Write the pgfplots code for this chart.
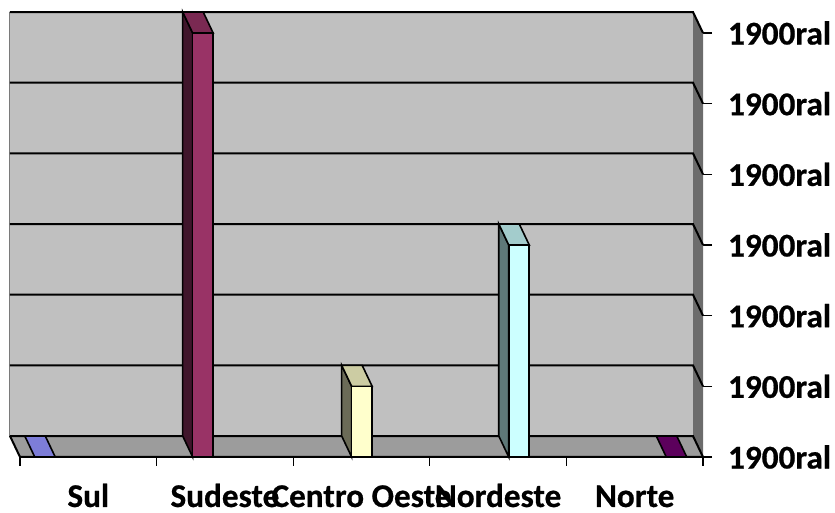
\documentclass[border=0pt]{standalone}
\usepackage{fontspec}
\setmainfont{Carlito}[BoldFeatures={FakeBold=0.6}]
\usepackage{pgfplots}
\pgfplotsset{compat=1.18}
\definecolor{wall}{HTML}{C0C0C0}
\definecolor{floorc}{HTML}{9C9C9C}
\definecolor{rwall}{HTML}{6C6C6C}
\definecolor{edgec}{HTML}{7A7A7A}
\definecolor{sulc}{HTML}{7D7DD8}
\definecolor{sudF}{HTML}{993366}
\definecolor{sudS}{HTML}{40152B}
\definecolor{sudT}{HTML}{7A2952}
\definecolor{coF}{HTML}{FFFFCC}
\definecolor{coS}{HTML}{6B6B57}
\definecolor{coT}{HTML}{CCCCA3}
\definecolor{neF}{HTML}{CCFFFF}
\definecolor{neS}{HTML}{5E7878}
\definecolor{neT}{HTML}{A3CCCC}
\definecolor{noc}{HTML}{5C005C}
\begin{document}
\begin{tikzpicture}
\begin{axis}[
  at={(0,0)}, anchor=south west,
  scale only axis, width=351.5pt, height=228.5pt,
  xmin=-0.6464, xmax=4.5, ymin=0, ymax=6.467,
  axis line style={draw=none},
  clip=false, no markers,
  xtick={-0.5,0.5,1.5,2.5,3.5,4.5}, xticklabels={},
  extra x ticks={0,1,2,3,4},
  extra x tick labels={Sul,Sudeste,Centro Oeste,Nordeste,Norte},
  extra x tick style={major tick length=0pt},
  xtick pos=bottom,
  ytick={0,1,2,3,4,5,6},
  yticklabels={1900ral,1900ral,1900ral,1900ral,1900ral,1900ral,1900ral},
  ytick pos=right, yticklabel pos=right,
  tick align=outside,
  major tick length=4.5pt,
  tick style={black, line width=0.6pt},
  ticklabel style={font=\fontsize{16.6}{19}\selectfont\bfseries},
  xticklabel style={anchor=base, yshift=-25pt},
  yticklabel style={xshift=4.5pt},
]
% back wall
\addplot[fill=wall, draw=edgec, line width=0.5pt] coordinates {(-0.5732,0.297) (4.4268,0.297) (4.4268,6.297) (-0.5732,6.297)} -- cycle;
% right wall
\addplot[fill=rwall, draw=none] coordinates {(4.4268,0.297) (4.4268,6.297) (4.5,6) (4.5,0)} -- cycle;
% floor
\addplot[fill=floorc, draw=none] coordinates {(-0.5732,0.297) (4.4268,0.297) (4.5,0) (-0.5,0)} -- cycle;
% gridlines (back wall + right wall diagonal)
\addplot[black, line width=1pt] coordinates {(-0.5732,6.297) (4.4268,6.297) (4.5,6)};
\addplot[black, line width=1pt] coordinates {(-0.5732,5.297) (4.4268,5.297) (4.5,5)};
\addplot[black, line width=1pt] coordinates {(-0.5732,4.297) (4.4268,4.297) (4.5,4)};
\addplot[black, line width=1pt] coordinates {(-0.5732,3.297) (4.4268,3.297) (4.5,3)};
\addplot[black, line width=1pt] coordinates {(-0.5732,2.297) (4.4268,2.297) (4.5,2)};
\addplot[black, line width=1pt] coordinates {(-0.5732,1.297) (4.4268,1.297) (4.5,1)};
\addplot[black, line width=1pt] coordinates {(-0.5732,0.297) (4.4268,0.297) (4.5,0)};
\addplot[black, line width=1pt] coordinates {(-0.5732,0.297) (-0.5,0) (4.5,0)};
% Sul (value 0)
\addplot[fill=sulc, draw=black, line width=0.8pt] coordinates {(-0.392,0) (-0.465,0.297) (-0.315,0.297) (-0.242,0)} -- cycle;
% Sudeste (value 6)
\addplot[fill=sudS, draw=black, line width=0.8pt] coordinates {(0.764,0) (0.691,0.297) (0.691,6.297) (0.764,6)} -- cycle;
\addplot[fill=sudT, draw=black, line width=0.8pt] coordinates {(0.764,6) (0.691,6.297) (0.841,6.297) (0.914,6)} -- cycle;
\addplot[ybar, bar width=0.15, bar shift=0pt, fill=sudF, draw=black, line width=0.8pt] coordinates {(0.839,6)};
% Centro Oeste (value 1)
\addplot[fill=coS, draw=black, line width=0.8pt] coordinates {(1.928,0) (1.855,0.297) (1.855,1.297) (1.928,1)} -- cycle;
\addplot[fill=coT, draw=black, line width=0.8pt] coordinates {(1.928,1) (1.855,1.297) (2.005,1.297) (2.078,1)} -- cycle;
\addplot[ybar, bar width=0.15, bar shift=0pt, fill=coF, draw=black, line width=0.8pt] coordinates {(2.003,1)};
% Nordeste (value 3)
\addplot[fill=neS, draw=black, line width=0.8pt] coordinates {(3.078,0) (3.005,0.297) (3.005,3.297) (3.078,3)} -- cycle;
\addplot[fill=neT, draw=black, line width=0.8pt] coordinates {(3.078,3) (3.005,3.297) (3.155,3.297) (3.228,3)} -- cycle;
\addplot[ybar, bar width=0.15, bar shift=0pt, fill=neF, draw=black, line width=0.8pt] coordinates {(3.153,3)};
% Norte (value 0)
\addplot[fill=noc, draw=black, line width=0.8pt] coordinates {(4.231,0) (4.158,0.297) (4.308,0.297) (4.381,0)} -- cycle;
\end{axis}
\pgfresetboundingbox
\path (0,-28pt) rectangle (417.5pt,228.5pt);
\end{tikzpicture}
\end{document}
